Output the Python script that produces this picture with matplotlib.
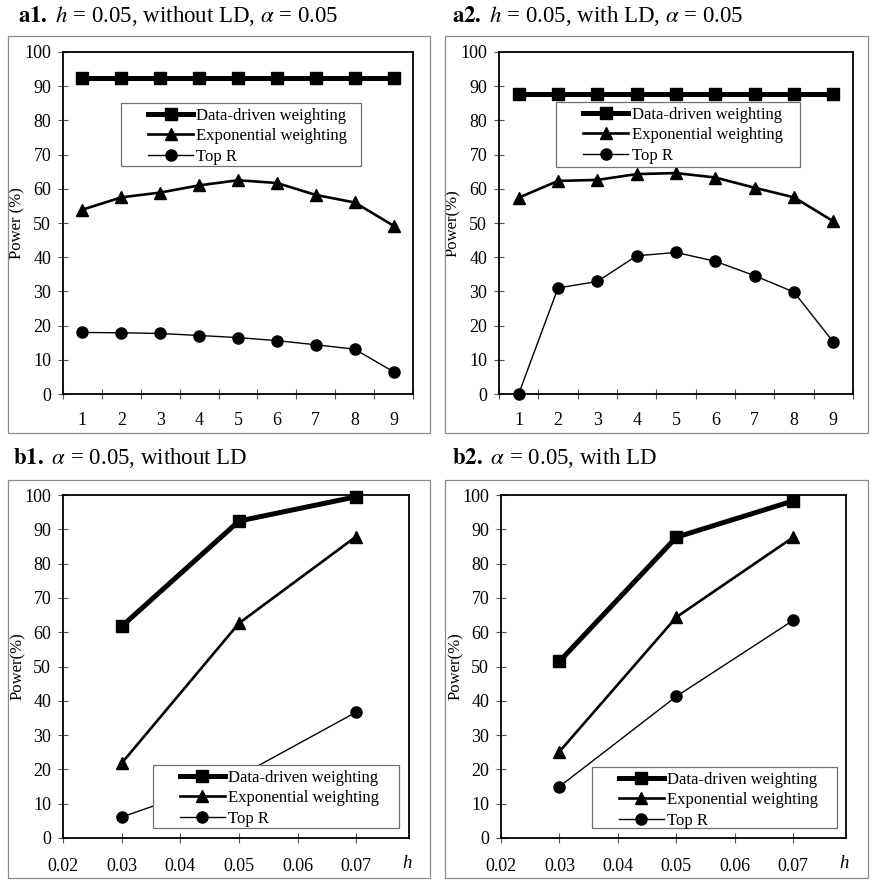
import numpy as np
import matplotlib
matplotlib.use("Agg")
import matplotlib.pyplot as plt
from matplotlib.patches import Rectangle

plt.rcParams['font.family'] = ['Liberation Serif', 'DejaVu Serif']
plt.rcParams['mathtext.fontset'] = 'stix'

# ---- data ----
series_names = ["Data-driven weighting", "Exponential weighting", "Top R"]
cats = ["1", "2", "3", "4", "5", "6", "7", "8", "9"]

a1_data = [92.3, 92.3, 92.3, 92.3, 92.3, 92.3, 92.3, 92.3, 92.3]
a1_exp = [53.9, 57.5, 58.9, 61.0, 62.5, 61.7, 58.2, 56.0, 49.2]
a1_top = [18.0, 17.9, 17.7, 17.1, 16.5, 15.6, 14.4, 13.1, 6.5]

a2_data = [87.8, 87.8, 87.8, 87.8, 87.8, 87.8, 87.8, 87.8, 87.8]
a2_exp = [57.4, 62.3, 62.6, 64.3, 64.6, 63.3, 60.3, 57.5, 50.5]
a2_top = [0.0, 31.0, 32.9, 40.4, 41.4, 38.8, 34.6, 29.8, 15.2]

h_vals = [0.03, 0.05, 0.07]
b1_data = [61.7, 92.4, 99.5]
b1_exp = [21.8, 62.6, 87.9]
b1_top = [6.1, 18.0, 36.7]

b2_data = [51.5, 87.7, 98.3]
b2_exp = [25.2, 64.4, 87.7]
b2_top = [15.0, 41.3, 63.5]

W, H = 875, 886
fig = plt.figure(figsize=(W / 100, H / 100), dpi=100)


def px_axes(l, t, r, b):
    return [l / W, 1 - b / H, (r - l) / W, (b - t) / H]


def outer_box(l, t, r, b):
    fig.patches.append(Rectangle((l / W, 1 - b / H), (r - l) / W, (b - t) / H,
                                 transform=fig.transFigure, fill=False,
                                 edgecolor='#8c8c8c', lw=0.9))


styles = [dict(lw=3.6, marker='s', ms=8.5),
          dict(lw=1.9, marker='^', ms=9),
          dict(lw=1.0, marker='o', ms=8)]


def draw(ax, x, ys, ylabel, leg_box):
    lines = []
    for y, st in zip(ys, styles):
        ln, = ax.plot(x, y, color='black', mfc='black', mec='black',
                      clip_on=False, zorder=3, **st)
        lines.append(ln)
    ax.set_ylim(0, 100)
    ax.set_yticks(np.arange(0, 101, 10))
    for s in ax.spines.values():
        s.set_linewidth(1.3)
    ax.tick_params(axis='both', direction='inout', length=7, width=0.8,
                   color='#555555', labelsize=13)
    ax.tick_params(axis='y', pad=5)
    ax.set_ylabel(ylabel, fontsize=12)
    ax.yaxis.set_label_coords(-0.108, 0.5)
    # legend frame
    lx0, lx1, ly0, ly1 = leg_box
    ax.add_patch(Rectangle((lx0, ly0), lx1 - lx0, ly1 - ly0, transform=ax.transAxes,
                           facecolor='white', edgecolor='#707070', lw=0.9, zorder=4))
    leg = ax.legend(lines, series_names, loc='upper left', frameon=False,
                    bbox_to_anchor=(lx0 + 22 / 350, ly1), borderaxespad=0,
                    borderpad=0.3, labelspacing=0.26, handlelength=2.7,
                    handletextpad=0.2, fontsize=12, numpoints=1)
    leg.set_zorder(5)


# a1
ax = fig.add_axes(px_axes(63, 52, 413, 394))
xpos = np.arange(len(cats))
draw(ax, xpos, [a1_data, a1_exp, a1_top], "Power (%)", (0.166, 0.851, 0.667, 0.851))
ax.set_xlim(-0.5, len(cats) - 0.5)
ax.set_xticks(np.arange(-0.5, len(cats), 1))
ax.set_xticklabels([])
ax.set_xticks(xpos, minor=True)
ax.set_xticklabels(cats, minor=True)
ax.tick_params(axis='x', which='minor', length=0, pad=13, labelsize=13)

# a2
ax = fig.add_axes(px_axes(499, 52, 853, 394))
draw(ax, xpos, [a2_data, a2_exp, a2_top], "Power(%)", (0.161, 0.850, 0.664, 0.854))
ax.set_xlim(-0.5, len(cats) - 0.5)
ax.set_xticks(np.arange(-0.5, len(cats), 1))
ax.set_xticklabels([])
ax.set_xticks(xpos, minor=True)
ax.set_xticklabels(cats, minor=True)
ax.tick_params(axis='x', which='minor', length=0, pad=13, labelsize=13)

# b1, b2
hticks = [0.02, 0.03, 0.04, 0.05, 0.06, 0.07]
for box, ys, lb in [((63, 495, 409, 838), [b1_data, b1_exp, b1_top], (0.260, 0.970, 0.030, 0.213)),
                    ((501, 495, 846, 838), [b2_data, b2_exp, b2_top], (0.264, 0.974, 0.030, 0.207))]:
    ax = fig.add_axes(px_axes(*box))
    draw(ax, h_vals, ys, "Power(%)", lb)
    ax.set_xlim(0.02, 0.079)
    ax.set_xticks(hticks)
    ax.set_xticklabels([f"{t:.2f}" for t in hticks])
    ax.tick_params(axis='x', pad=11)
    ax.text(0.994, -0.073, "h", transform=ax.transAxes, ha='center', va='center',
            fontsize=13.5, style='italic')

outer_box(8, 36, 430, 433)
outer_box(445, 36, 868, 433)
outer_box(8, 480, 430, 878)
outer_box(445, 480, 868, 878)

tfs = 16.5
fig.text(18 / W, 1 - 16 / H, r"$\mathbf{a1.}$ $h$ = 0.05, without LD, $\alpha$ = 0.05",
         fontsize=tfs, ha='left', va='center')
fig.text(452 / W, 1 - 16 / H, r"$\mathbf{a2.}$ $h$ = 0.05, with LD, $\alpha$ = 0.05",
         fontsize=tfs, ha='left', va='center')
fig.text(13 / W, 1 - 458 / H, r"$\mathbf{b1.}$ $\alpha$ = 0.05, without LD",
         fontsize=tfs, ha='left', va='center')
fig.text(452 / W, 1 - 458 / H, r"$\mathbf{b2.}$ $\alpha$ = 0.05, with LD",
         fontsize=tfs, ha='left', va='center')

fig.savefig("out.png", dpi=100)
